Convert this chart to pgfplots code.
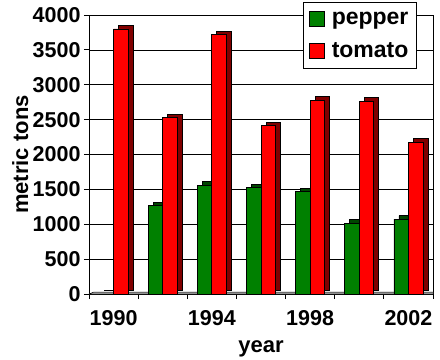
\documentclass[border=0pt]{standalone}
\usepackage{pgfplots}
\pgfplotsset{compat=1.18}
\usepackage{fontspec}
\setmainfont{Liberation Sans}
\definecolor{pgreen}{RGB}{0,128,0}
\definecolor{pgreendk}{RGB}{0,70,0}
\definecolor{tred}{RGB}{255,0,0}
\definecolor{treddk}{RGB}{128,0,0}
\begin{document}
\begin{tikzpicture}
\useasboundingbox (-89bp,-66bp) rectangle (351bp,294bp);
\begin{axis}[
  at={(0,0)}, anchor=south west, scale only axis,
  width=344bp, height=279bp,
  xmin=-0.5, xmax=6.5, ymin=0, ymax=4000,
  ytick={0,500,...,4000},
  ymajorgrids, grid style={black, line width=0.6bp},
  axis line style={black, line width=0.8bp},
  xtick={-0.5,0.5,...,6.5}, xticklabels={},
  extra x ticks={0,2,4,6}, extra x tick labels={1990,1994,1998,2002},
  extra x tick style={major tick length=0pt, grid=none, xticklabel style={yshift=-13bp}},
  tick align=outside, major tick length=5bp,
  tick style={black, line width=0.8bp},
  xtick pos=left, ytick pos=left,
  scaled ticks=false,
  /pgf/number format/1000 sep={},
  /pgf/number format/assume math mode=true,
  font=\fontsize{22bp}{26bp}\selectfont\bfseries,
  ticklabel style={font=\fontsize{21.5bp}{24bp}\selectfont\bfseries},
  ylabel={metric tons}, xlabel={year},
  every axis y label/.style={at={(axis description cs:-0.2,0.5)}, rotate=90, anchor=center},
  every axis x label/.style={at={(axis description cs:0.5,-0.208)}, anchor=base},
  legend style={at={(0.953,1.047)}, anchor=north east, draw=black, line width=0.8bp,
    fill=white, inner xsep=6bp, inner ysep=8bp, row sep=12bp,
    font=\fontsize{23bp}{26bp}\selectfont\bfseries},
  legend cell align=left,
  legend image code/.code={\draw[#1, line width=0.8bp] (0bp,-7.5bp) rectangle (15bp,7.5bp); \path[draw=none, fill=none] (0bp,0bp) -- (20bp,0bp);},
]
\draw[fill=gray!70, draw=black, line width=0.5bp] (axis description cs:0,0) -- ([xshift=5bp,yshift=2bp]axis description cs:0,0) -- ([xshift=5bp,yshift=2bp]axis description cs:1,0) -- (axis description cs:1,0) -- cycle;
\addplot[ybar, bar width=14.5bp, bar shift=-7.25bp, fill=pgreen, draw=black, line width=0.8bp, forget plot,
  preaction={fill=pgreendk, draw=black, line width=0.8bp, transform canvas={shift={(5bp,3.5bp)}}}]
  coordinates {(0,0) (1,1265) (2,1560) (3,1525) (4,1465) (5,1015) (6,1075)};
\addplot[ybar, bar width=14.5bp, bar shift=7.25bp, fill=tred, draw=black, line width=0.8bp, forget plot,
  preaction={fill=treddk, draw=black, line width=0.8bp, transform canvas={shift={(5bp,3.5bp)}}}]
  coordinates {(0,3800) (1,2530) (2,3715) (3,2415) (4,2780) (5,2765) (6,2175)};
\addlegendimage{fill=pgreen, draw=black}
\addlegendentry{pepper}
\addlegendimage{fill=tred, draw=black}
\addlegendentry{tomato}
\end{axis}
\end{tikzpicture}
\end{document}
